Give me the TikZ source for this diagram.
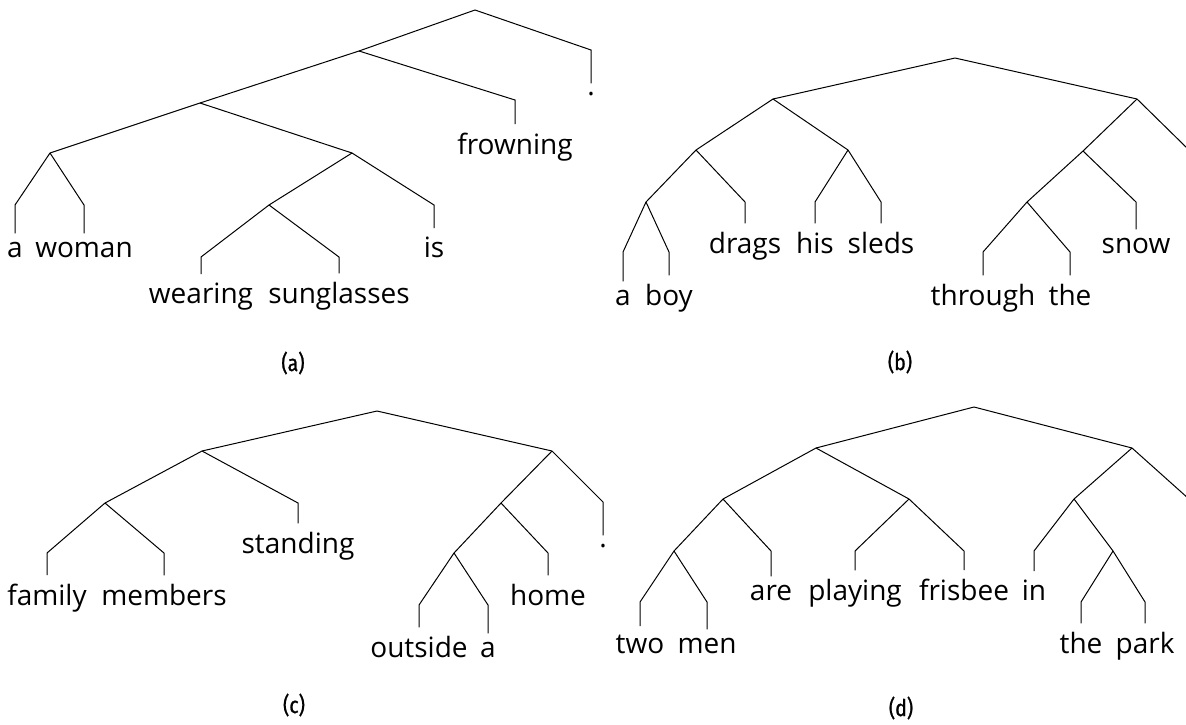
\documentclass[tikz,border=0pt]{standalone}
\usepackage{fontspec}
\usetikzlibrary{positioning}
\newfontfamily\wordfont{Open Sans}
\newfontfamily\capfont{Fira Sans}[FakeStretch=0.85, FakeBold=1]

\begin{document}
\begin{tikzpicture}[
    x=0.5pt, y=-0.5pt,
    branch/.style={draw=black, line width=0.5pt},
    tok/.style={font=\wordfont\fontsize{14}{16}\selectfont, inner sep=4pt, anchor=base},
    sublabel/.style={font=\capfont\fontsize{11.5}{13}\selectfont}
]
\useasboundingbox (0,0) rectangle (1186,724);
\clip (0,0) rectangle (1186,724);

% === (a) a woman wearing sunglasses is frowning . ===
\coordinate (a0) at (475,10);
\coordinate (a1) at (359,51);
\coordinate (a2) at (200,103);
\coordinate (a3) at (50,153);
\coordinate (a4) at (352,153);
\coordinate (a5) at (269,205);

\node[tok] (wa1) at (15,257) {a};
\node[tok] (wa2) at (84,257) {woman};
\node[tok] (wa3) at (201,303) {wearing};
\node[tok] (wa4) at (339,303) {sunglasses};
\node[tok] (wa5) at (434,257) {is};
\node[tok] (wa6) at (515,154) {frowning};
\node[tok] (wa7) at (591,95) {.};

\coordinate (ta1) at (15,205);
\coordinate (ta2) at (84,205);
\coordinate (ta3) at (201,257);
\coordinate (ta4) at (339,257);
\coordinate (ta5) at (434,205);
\coordinate (ta6) at (515,100);
\coordinate (ta7) at (591,50);

\draw[branch] (a0) -- (a1);
\draw[branch] (a0) -- (ta7) -- (wa7);
\draw[branch] (a1) -- (a2);
\draw[branch] (a1) -- (ta6) -- (wa6);
\draw[branch] (a2) -- (a3);
\draw[branch] (a2) -- (a4);
\draw[branch] (a3) -- (ta1) -- (wa1);
\draw[branch] (a3) -- (ta2) -- (wa2);
\draw[branch] (a4) -- (a5);
\draw[branch] (a4) -- (ta5) -- (wa5);
\draw[branch] (a5) -- (ta3) -- (wa3);
\draw[branch] (a5) -- (ta4) -- (wa4);

\node[sublabel] (capA) at (293,363) {(a)};

% === (b) a boy drags his sleds through the snow . ===
\coordinate (b0) at (955,58);
\coordinate (b1) at (773,99);
\coordinate (b2) at (1137,99);
\coordinate (b3) at (696,150);
\coordinate (b4) at (848,150);
\coordinate (b5) at (646,202);
\coordinate (b6) at (1083,151);
\coordinate (b7) at (1027,202);

\node[tok] (wb1) at (623,305) {a};
\node[tok] (wb2) at (669,305) {boy};
\node[tok] (wb3) at (745,253) {drags};
\node[tok] (wb4) at (815,253) {his};
\node[tok] (wb5) at (881,253) {sleds};
\node[tok] (wb6) at (983,305) {through};
\node[tok] (wb7) at (1070,305) {the};
\node[tok] (wb8) at (1136,253) {snow};
\node[tok] (wb9) at (1189,195) {.};

\coordinate (tb1) at (623,252);
\coordinate (tb2) at (669,252);
\coordinate (tb3) at (745,202);
\coordinate (tb4) at (815,202);
\coordinate (tb5) at (881,202);
\coordinate (tb6) at (983,252);
\coordinate (tb7) at (1070,252);
\coordinate (tb8) at (1136,202);
\coordinate (tb9) at (1189,150);

\draw[branch] (b0) -- (b1);
\draw[branch] (b0) -- (b2);
\draw[branch] (b1) -- (b3);
\draw[branch] (b1) -- (b4);
\draw[branch] (b3) -- (b5);
\draw[branch] (b3) -- (tb3) -- (wb3);
\draw[branch] (b5) -- (tb1) -- (wb1);
\draw[branch] (b5) -- (tb2) -- (wb2);
\draw[branch] (b4) -- (tb4) -- (wb4);
\draw[branch] (b4) -- (tb5) -- (wb5);
\draw[branch] (b2) -- (b6);
\draw[branch] (b2) -- (tb9) -- (wb9);
\draw[branch] (b6) -- (b7);
\draw[branch] (b6) -- (tb8) -- (wb8);
\draw[branch] (b7) -- (tb6) -- (wb6);
\draw[branch] (b7) -- (tb7) -- (wb7);

\node[sublabel] (capB) at (900,362) {(b)};

% === (c) family members standing outside a home . ===
\coordinate (c0) at (377,411);
\coordinate (c1) at (202,451);
\coordinate (c2) at (552,451);
\coordinate (c3) at (105,503);
\coordinate (c4) at (501,503);
\coordinate (c5) at (454,553);

\node[tok] (wc1) at (47,605) {family};
\node[tok] (wc2) at (164,605) {members};
\node[tok] (wc3) at (298,553) {standing};
\node[tok] (wc4) at (419,657) {outside};
\node[tok] (wc5) at (488,657) {a};
\node[tok] (wc6) at (548,605) {home};
\node[tok] (wc7) at (603,547) {.};

\coordinate (tc1) at (47,553);
\coordinate (tc2) at (164,553);
\coordinate (tc3) at (298,503);
\coordinate (tc4) at (419,605);
\coordinate (tc5) at (488,605);
\coordinate (tc6) at (548,553);
\coordinate (tc7) at (603,502);

\draw[branch] (c0) -- (c1);
\draw[branch] (c0) -- (c2);
\draw[branch] (c1) -- (c3);
\draw[branch] (c1) -- (tc3) -- (wc3);
\draw[branch] (c3) -- (tc1) -- (wc1);
\draw[branch] (c3) -- (tc2) -- (wc2);
\draw[branch] (c2) -- (c4);
\draw[branch] (c2) -- (tc7) -- (wc7);
\draw[branch] (c4) -- (c5);
\draw[branch] (c4) -- (tc6) -- (wc6);
\draw[branch] (c5) -- (tc4) -- (wc4);
\draw[branch] (c5) -- (tc5) -- (wc5);

\node[sublabel] (capC) at (294,705) {(c)};

% === (d) two men are playing frisbee in the park . ===
\coordinate (d0) at (974,407);
\coordinate (d1) at (816,448);
\coordinate (d2) at (1132,448);
\coordinate (d3) at (723,499);
\coordinate (d4) at (909,499);
\coordinate (d5) at (674,551);
\coordinate (d6) at (1074,499);
\coordinate (d7) at (1113,551);

\node[tok] (wd1) at (640,653) {two};
\node[tok] (wd2) at (707,653) {men};
\node[tok] (wd3) at (771,600) {are};
\node[tok] (wd4) at (855,600) {playing};
\node[tok] (wd5) at (964,600) {frisbee};
\node[tok] (wd6) at (1034,600) {in};
\node[tok] (wd7) at (1081,653) {the};
\node[tok] (wd8) at (1145,653) {park};
\node[tok] (wd9) at (1189,544) {.};

\coordinate (td1) at (640,602);
\coordinate (td2) at (707,602);
\coordinate (td3) at (771,551);
\coordinate (td4) at (855,551);
\coordinate (td5) at (964,551);
\coordinate (td6) at (1034,551);
\coordinate (td7) at (1081,602);
\coordinate (td8) at (1145,602);
\coordinate (td9) at (1189,499);

\draw[branch] (d0) -- (d1);
\draw[branch] (d0) -- (d2);
\draw[branch] (d1) -- (d3);
\draw[branch] (d1) -- (d4);
\draw[branch] (d3) -- (d5);
\draw[branch] (d3) -- (td3) -- (wd3);
\draw[branch] (d5) -- (td1) -- (wd1);
\draw[branch] (d5) -- (td2) -- (wd2);
\draw[branch] (d4) -- (td4) -- (wd4);
\draw[branch] (d4) -- (td5) -- (wd5);
\draw[branch] (d2) -- (d6);
\draw[branch] (d2) -- (td9) -- (wd9);
\draw[branch] (d6) -- (td6) -- (wd6);
\draw[branch] (d6) -- (d7);
\draw[branch] (d7) -- (td7) -- (wd7);
\draw[branch] (d7) -- (td8) -- (wd8);

\node[sublabel] (capD) at (901,708) {(d)};

\end{tikzpicture}
\end{document}
